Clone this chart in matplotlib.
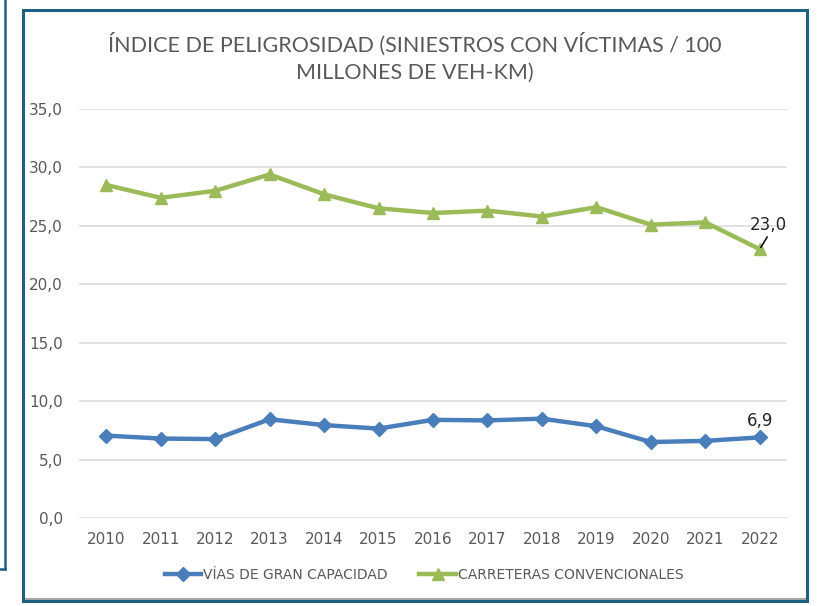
import matplotlib
matplotlib.use("Agg")
import matplotlib.pyplot as plt
from matplotlib import font_manager
from matplotlib.lines import Line2D
from matplotlib.patches import Rectangle

years = ["2010", "2011", "2012", "2013", "2014", "2015", "2016",
         "2017", "2018", "2019", "2020", "2021", "2022"]
vias_gran_capacidad = [7.05, 6.8, 6.75, 8.45, 7.95, 7.65, 8.4, 8.35, 8.5, 7.85, 6.5, 6.6, 6.9]
carreteras_convencionales = [28.5, 27.4, 28.0, 29.4, 27.7, 26.5, 26.1, 26.3, 25.8, 26.6, 25.1, 25.3, 23.0]
series_names = ["VÍAS DE GRAN CAPACIDAD", "CARRETERAS CONVENCIONALES"]
y_ticks = [0, 5, 10, 15, 20, 25, 30, 35]
title = "ÍNDICE DE PELIGROSIDAD (SINIESTROS CON VÍCTIMAS / 100\nMILLONES DE VEH-KM)"

names = {f.name for f in font_manager.fontManager.ttflist}
narrow = "Liberation Sans Narrow" if "Liberation Sans Narrow" in names else (
    "DejaVu Sans Condensed" if "DejaVu Sans Condensed" in names else "DejaVu Sans")
main_font = "Lato" if "Lato" in names else "DejaVu Sans"

BLUE = "#4A7EBB"
GREEN = "#9BBB59"
GREY = "#595959"
FRAME = "#1F5F80"

fig = plt.figure(figsize=(8.33, 6.06), dpi=100)
fig.patch.set_facecolor("white")

# shadow + outer frame
fig.add_artist(Line2D([24 / 833, 805 / 833], [1 - 599 / 606, 1 - 599 / 606],
                      transform=fig.transFigure, color="#A6A6A6", lw=1.5, zorder=4))
fig.add_artist(Rectangle((23 / 833, 1 - 601 / 606), 784 / 833, 591 / 606,
                         transform=fig.transFigure, fill=False,
                         edgecolor=FRAME, lw=2.2, zorder=5))
fig.add_artist(Line2D([5 / 833, 5 / 833], [1.0, 1 - 569 / 606],
                      transform=fig.transFigure, color=FRAME, lw=1.8))
fig.add_artist(Line2D([0, 5 / 833], [1 - 569 / 606, 1 - 569 / 606],
                      transform=fig.transFigure, color=FRAME, lw=1.8))

ax = fig.add_axes([79 / 833, 1 - 518 / 606, 708 / 833, 409 / 606])
x = list(range(len(years)))
ax.plot(x, vias_gran_capacidad, color=BLUE, lw=3.2, marker="D", markersize=7,
        label=series_names[0], zorder=3)
ax.plot(x, carreteras_convencionales, color=GREEN, lw=3.2, marker="^", markersize=9,
        label=series_names[1], zorder=3)

ax.set_xlim(-0.5, len(years) - 0.5)
ax.set_ylim(0, 35)
ax.set_yticks(y_ticks)
ax.set_yticklabels([f"{v:.1f}".replace(".", ",") for v in y_ticks],
                   fontfamily=narrow, fontsize=11, color=GREY)
ax.set_xticks(x)
ax.set_xticklabels(years, fontfamily=narrow, fontsize=11, color=GREY)
ax.tick_params(axis="x", length=0, pad=10)
ax.tick_params(axis="y", length=0, pad=11.5)
ax.grid(axis="y", color="#D9D9D9", lw=1.1)
ax.set_axisbelow(True)
for s in ax.spines.values():
    s.set_visible(False)

# data labels
last = len(years) - 1
ax.annotate(f"{carreteras_convencionales[-1]:.1f}".replace(".", ","),
            xy=(last, carreteras_convencionales[-1]),
            xytext=(5.8, 17.8), textcoords="offset points",
            ha="center", va="center", fontfamily=narrow, fontsize=12, color="#262626")
ax.annotate("", xy=(last, carreteras_convencionales[-1]),
            xytext=(5.4, 8.9), textcoords="offset points",
            arrowprops=dict(arrowstyle="-", color="black", lw=1.1,
                            shrinkA=0, shrinkB=1.5))
ax.annotate(f"{vias_gran_capacidad[-1]:.1f}".replace(".", ","),
            xy=(last, vias_gran_capacidad[-1]),
            xytext=(0, 12), textcoords="offset points",
            ha="center", va="center", fontfamily=narrow, fontsize=12, color="#262626")

fig.text(415 / 833, 1 - 58 / 606, title, ha="center", va="center",
         fontfamily=main_font, fontsize=15.5, color=GREY, linespacing=1.45)

leg = fig.legend(loc="center", bbox_to_anchor=(424 / 833, 1 - 575 / 606), ncol=2,
                 frameon=False, prop={"family": narrow, "size": 10},
                 handlelength=2.6, columnspacing=2.3, handletextpad=0.15)
for t in leg.get_texts():
    t.set_color(GREY)

fig.savefig("out.png", dpi=100, facecolor="white")
